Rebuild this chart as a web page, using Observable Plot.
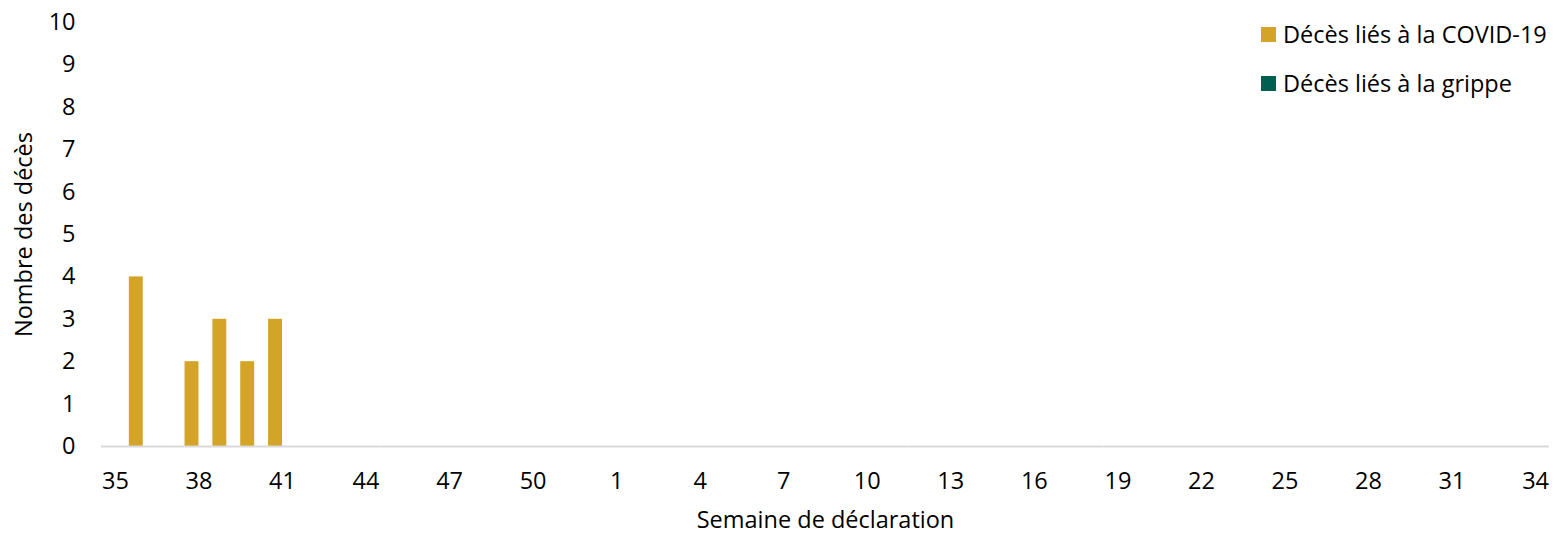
<!DOCTYPE html>
<html><head><meta charset="utf-8">
<script src="https://cdn.jsdelivr.net/npm/d3@7"></script>
<script src="https://cdn.jsdelivr.net/npm/@observablehq/plot@0.6"></script>
<style>
html,body{margin:0;padding:0;background:#fff;}
#wrap{position:relative;width:1558px;height:533px;font-family:"Open Sans",sans-serif;}
.legend{position:absolute;left:1261px;top:10px;font-size:23.5px;color:#000;}
.legend .item{display:flex;align-items:center;height:49px;line-height:1;}
.legend .sw{width:15px;height:15px;margin-right:7px;flex:none;}
</style></head><body><div id="wrap"></div>
<script>
const weeks = [35,36,37,38,39,40,41,42,43,44,45,46,47,48,49,50,51,52,1,2,3,4,5,6,7,8,9,10,11,12,13,14,15,16,17,18,19,20,21,22,23,24,25,26,27,28,29,30,31,32,33,34];
const covid = [0,4,0,2,3,2,3,0,0,0,0,0,0,0,0,0,0,0,0,0,0,0,0,0,0,0,0,0,0,0,0,0,0,0,0,0,0,0,0,0,0,0,0,0,0,0,0,0,0,0,0,0];
const grippe = [0,0,0,0,0,0,0,0,0,0,0,0,0,0,0,0,0,0,0,0,0,0,0,0,0,0,0,0,0,0,0,0,0,0,0,0,0,0,0,0,0,0,0,0,0,0,0,0,0,0,0,0];
const seriesNames = ["Décès liés à la COVID-19", "Décès liés à la grippe"];
const seriesColors = ["#d4a429", "#00604f"];
const yTicks = [0,1,2,3,4,5,6,7,8,9,10];
const xTicks = weeks.filter((w, i) => i % 3 === 0);

const data = weeks.flatMap((w, i) => [
  {week: w, series: seriesNames[0], value: covid[i]},
  {week: w, series: seriesNames[1], value: grippe[i]}
]);

const chart = Plot.plot({
  width: 1558,
  height: 533,
  marginLeft: 101,
  marginRight: 9,
  marginTop: 22,
  marginBottom: 87,
  style: {fontFamily: "Open Sans", fontSize: "23.5px", color: "#000", background: "#fff", overflow: "visible"},
  fx: {domain: weeks, padding: 0, round: false, ticks: xTicks, tickSize: 0, tickPadding: 26,
       label: "Semaine de déclaration", labelAnchor: "center", labelOffset: 81, labelArrow: "none"},
  x: {domain: seriesNames, padding: 0, round: false, axis: null},
  y: {domain: [0, 10], ticks: yTicks, tickSize: 0, tickPadding: 26,
      label: "Nombre des décès", labelAnchor: "center", labelOffset: 86, labelArrow: "none"},
  color: {domain: seriesNames, range: seriesColors},
  marks: [
    Plot.barY(data, {fx: "week", x: "series", y: "value", fill: "series"}),
    Plot.ruleY([0], {stroke: "#d9d9d9", strokeWidth: 2})
  ]
});
document.getElementById("wrap").appendChild(chart);

const legend = document.createElement("div");
legend.className = "legend";
seriesNames.forEach((name, i) => {
  const item = document.createElement("div");
  item.className = "item";
  const sw = document.createElement("span");
  sw.className = "sw";
  sw.style.background = seriesColors[i];
  const tx = document.createElement("span");
  tx.textContent = name;
  item.appendChild(sw);
  item.appendChild(tx);
  legend.appendChild(item);
});
document.getElementById("wrap").appendChild(legend);
</script></body></html>
